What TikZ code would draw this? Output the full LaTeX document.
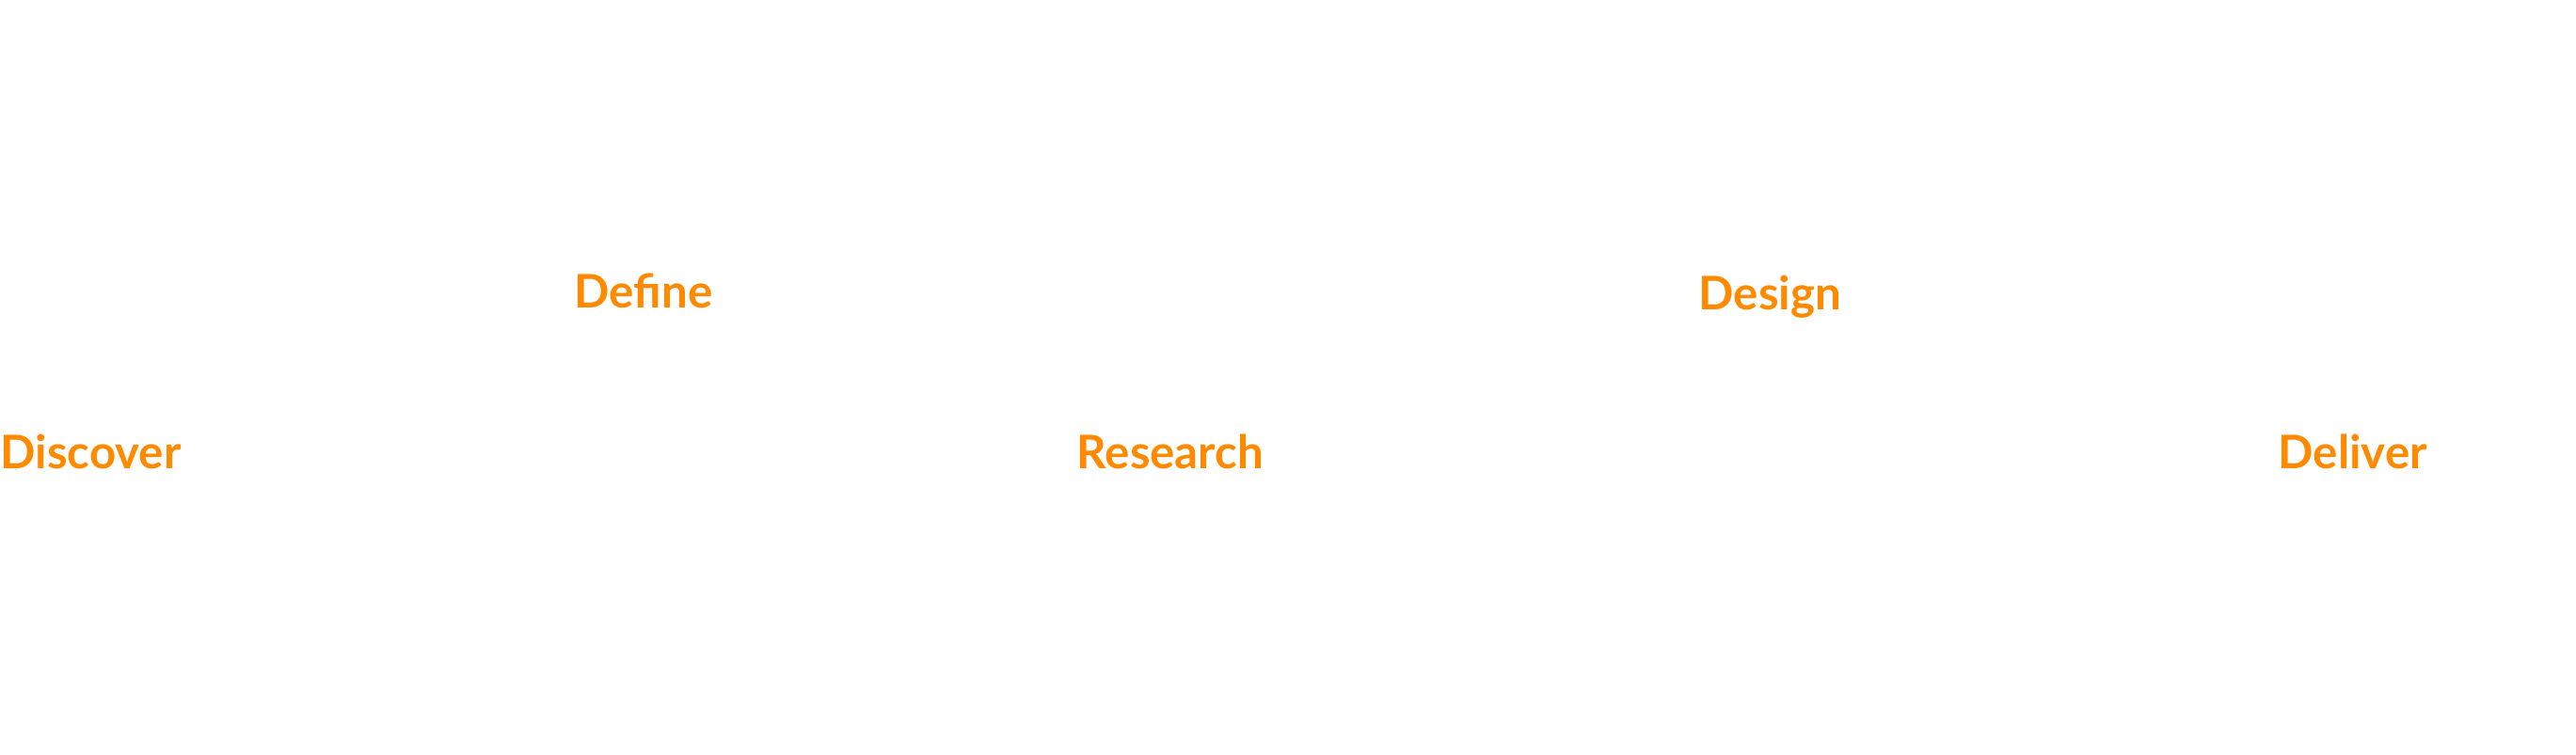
\documentclass[tikz,border=0pt]{standalone}
\usepackage{fontspec}
\setmainfont{Lato}
\usepackage{tikz}
\usetikzlibrary{positioning}
\usepackage{xcolor}
\definecolor{phaseorange}{HTML}{FF8A00}

\tikzset{phase/.style={anchor=base west, inner sep=0pt, text=phaseorange, font=\fontsize{14}{16}\selectfont\bfseries}}

\begin{document}
\begin{tikzpicture}
	\useasboundingbox (0,0) rectangle (27.38,8.03);
	\node[phase] (discover) at (0.0,3.04) {Discover};
	\node[phase] (define) at (6.10,4.75) {Define};
	\node[phase] (research) at (11.44,3.04) {Research};
	\node[phase] (design) at (18.05,4.73) {Design};
	\node[phase] (deliver) at (24.21,3.04) {Deliver};
\end{tikzpicture}
\end{document}
